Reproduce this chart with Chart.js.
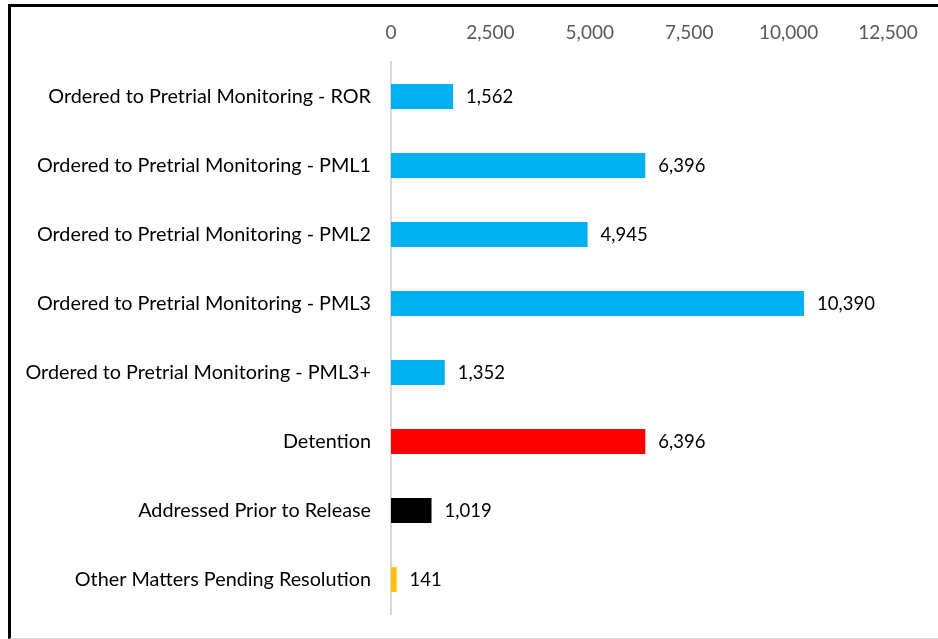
<!DOCTYPE html>
<html>
<head>
<meta charset="utf-8">
<script src="https://cdn.jsdelivr.net/npm/chart.js@4"></script>
<style>
    body { margin: 0; background: #fff; }
    #box {
        position: absolute; left: 8px; top: 4px;
        width: 927px; height: 631px;
        border-left: 3px solid #000; border-top: 3px solid #000;
        border-bottom: 1px solid #d9d9d9;
    }
</style>
</head>
<body>
<div id="box"><canvas id="chart" width="927" height="631"></canvas></div>
<script>
const categories = [
    'Ordered to Pretrial Monitoring - ROR',
    'Ordered to Pretrial Monitoring - PML1',
    'Ordered to Pretrial Monitoring - PML2',
    'Ordered to Pretrial Monitoring - PML3',
    'Ordered to Pretrial Monitoring - PML3+',
    'Detention',
    'Addressed Prior to Release',
    'Other Matters Pending Resolution'
];
const counts = [1562, 6396, 4945, 10390, 1352, 6396, 1019, 141];
const barColors = ['#00B0F0', '#00B0F0', '#00B0F0', '#00B0F0', '#00B0F0', '#FF0000', '#000000', '#FFC000'];
const tickValues = [0, 2500, 5000, 7500, 10000, 12500];

const FONT = 'Lato, "Open Sans", sans-serif';

// draws the value next to each bar
const valueLabels = {
    id: 'valueLabels',
    afterDatasetsDraw(chart) {
        const ctx = chart.ctx;
        const meta = chart.getDatasetMeta(0);
        ctx.save();
        ctx.font = '18.5px ' + FONT;
        ctx.fillStyle = '#000';
        ctx.textBaseline = 'middle';
        meta.data.forEach((bar, i) => {
            ctx.fillText(counts[i].toLocaleString('en-US'), bar.x + 13, bar.y + 1);
        });
        ctx.restore();
    }
};

new Chart(document.getElementById('chart'), {
    type: 'bar',
    data: {
        labels: categories,
        datasets: [{
            data: counts,
            backgroundColor: barColors,
            categoryPercentage: 1,
            barPercentage: 0.36
        }]
    },
    options: {
        indexAxis: 'y',
        responsive: false,
        animation: false,
        layout: { padding: { top: 0, right: 50, bottom: 24, left: 0 } },
        plugins: { legend: { display: false }, tooltip: { enabled: false } },
        scales: {
            x: {
                position: 'top',
                min: 0, max: 12500,
                afterBuildTicks: (scale) => { scale.ticks = tickValues.map(v => ({ value: v })); },
                afterFit: (scale) => { scale.height = 55; },
                grid: { display: false, drawTicks: false },
                border: { display: false },
                ticks: {
                    color: '#595959', padding: 18,
                    font: { family: FONT, size: 19 },
                    callback: (v) => v.toLocaleString('en-US')
                }
            },
            y: {
                afterFit: (scale) => {
                    scale.width = 380;
                    scale.paddingTop = 0;
                    scale.paddingBottom = 0;
                },
                grid: { display: false, drawTicks: false },
                border: { color: '#d9d9d9', width: 2 },
                ticks: {
                    color: '#000', padding: 20,
                    font: { family: FONT, size: 19.8 }
                }
            }
        }
    },
    plugins: [valueLabels]
});
</script>
</body>
</html>
